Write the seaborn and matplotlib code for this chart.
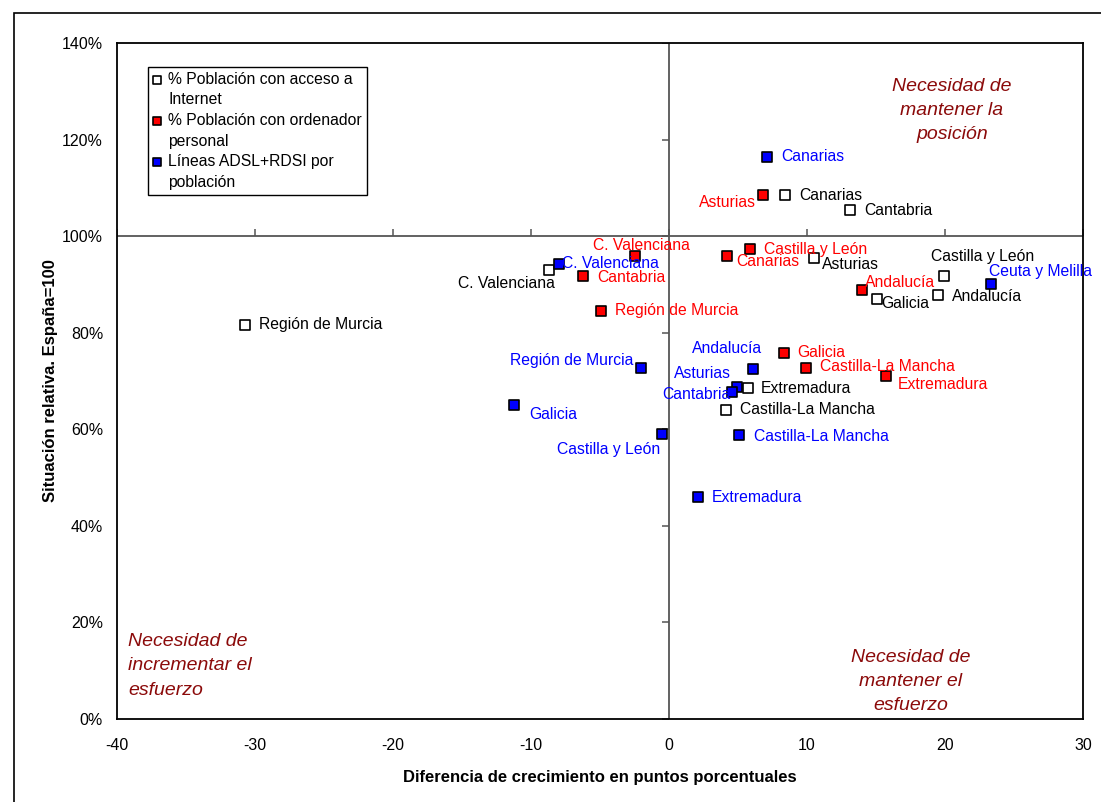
import numpy as np
import pandas as pd
import matplotlib
matplotlib.use("Agg")
import matplotlib.pyplot as plt
from matplotlib.lines import Line2D
import seaborn as sns

# --- datos ---
internet_regiones = ["Región de Murcia", "C. Valenciana", "Canarias", "Cantabria", "Asturias",
                     "Castilla y León", "Andalucía", "Galicia", "Extremadura", "Castilla-La Mancha"]
internet_x = [-30.7, -8.7, 8.4, 13.1, 10.5, 19.9, 19.5, 15.1, 5.7, 4.1]
internet_y = [81.6, 93.0, 108.5, 105.4, 95.4, 91.7, 87.8, 87.0, 68.5, 64.0]

ordenador_regiones = ["Asturias", "C. Valenciana", "Cantabria", "Región de Murcia", "Castilla y León",
                      "Canarias", "Andalucía", "Galicia", "Castilla-La Mancha", "Extremadura"]
ordenador_x = [6.8, -2.5, -6.2, -4.9, 5.9, 4.2, 14.0, 8.3, 9.9, 15.7]
ordenador_y = [108.5, 95.9, 91.7, 84.5, 97.3, 95.9, 88.8, 75.8, 72.7, 71.0]

adsl_regiones = ["Canarias", "C. Valenciana", "Ceuta y Melilla", "Región de Murcia", "Galicia",
                 "Castilla y León", "Andalucía", "Asturias", "Cantabria", "Castilla-La Mancha", "Extremadura"]
adsl_x = [7.1, -8.0, 23.3, -2.0, -11.2, -0.5, 6.1, 4.9, 4.6, 5.1, 2.1]
adsl_y = [116.4, 94.2, 90.1, 72.7, 65.0, 59.0, 72.5, 68.7, 67.7, 58.8, 46.0]

series_nombres = ["% Población con acceso a\nInternet",
                  "% Población con ordenador\npersonal",
                  "Líneas ADSL+RDSI por\npoblación"]

x_ticks = [-40, -30, -20, -10, 0, 10, 20, 30]
y_ticks = [0, 20, 40, 60, 80, 100, 120, 140]

# --- estilo ---
sns.set_style("white")
plt.rcParams["font.family"] = ["Liberation Sans", "DejaVu Sans"]
plt.rcParams["axes.unicode_minus"] = False
plt.rcParams["text.color"] = "black"
plt.rcParams["axes.labelcolor"] = "black"
plt.rcParams["xtick.color"] = "black"
plt.rcParams["ytick.color"] = "black"

ROJO_OSCURO = "#8B0A0A"
colores = {"fill": ["white", "#FF0000", "#0000FF"], "text": ["black", "#FF0000", "#0000FF"]}

# desplazamientos de etiqueta (px) y alineación
off_internet = {
    "Región de Murcia": (14, 0, "left"), "C. Valenciana": (6, -14, "right"),
    "Canarias": (14, 0, "left"), "Cantabria": (14, 0, "left"), "Asturias": (8, -6, "left"),
    "Castilla y León": (-13, 20, "left"), "Andalucía": (14, -1, "left"), "Galicia": (4, -5, "left"),
    "Extremadura": (13, 0, "left"), "Castilla-La Mancha": (14, 0, "left"),
}
off_ordenador = {
    "Asturias": (-7, -7, "right"), "C. Valenciana": (7, 10, "center"), "Cantabria": (14, -1, "left"),
    "Región de Murcia": (14, 0, "left"), "Castilla y León": (14, 0, "left"), "Canarias": (9, -6, "left"),
    "Andalucía": (3, 8, "left"), "Galicia": (14, 0, "left"), "Castilla-La Mancha": (14, 1, "left"),
    "Extremadura": (12, -8, "left"),
}
off_adsl = {
    "Canarias": (14, 0, "left"), "C. Valenciana": (3, 1, "left"), "Ceuta y Melilla": (-2, 12, "left"),
    "Región de Murcia": (-8, 7, "right"), "Galicia": (15, -9, "left"), "Castilla y León": (-2, -15, "right"),
    "Andalucía": (9, 20, "right"), "Asturias": (-6, 14, "right"), "Cantabria": (-2, -2, "right"),
    "Castilla-La Mancha": (15, -1, "left"), "Extremadura": (14, -1, "left"),
}

fig = plt.figure(figsize=(11.01, 8.02), dpi=100)
ax = fig.add_axes([117 / 1101, 83 / 802, 966 / 1101, 676 / 802])

# marco exterior
fig.patches.append(plt.Rectangle((14 / 1101, -0.1), 1.2, 1 - 13 / 802 + 0.1, transform=fig.transFigure,
                                 fill=False, edgecolor="black", linewidth=1.2))

# ejes cruzados en 0 y 100%
GRIS = "#555555"
ax.axvline(0, color=GRIS, linewidth=1.3, zorder=1)
ax.axhline(100, color=GRIS, linewidth=1.3, zorder=1)
ax.plot([0] * len(y_ticks), y_ticks, linestyle="none", marker=0, markersize=5, markeredgewidth=1.1,
        color=GRIS, zorder=1)
ax.plot(x_ticks, [100] * len(x_ticks), linestyle="none", marker=2, markersize=5, markeredgewidth=1.1,
        color=GRIS, zorder=1)

series = [
    (internet_regiones, internet_x, internet_y, off_internet),
    (ordenador_regiones, ordenador_x, ordenador_y, off_ordenador),
    (adsl_regiones, adsl_x, adsl_y, off_adsl),
]

for i, (reg, xs, ys, offs) in enumerate(series):
    df = pd.DataFrame({"x": xs, "y": ys, "region": reg})
    sns.scatterplot(data=df, x="x", y="y", ax=ax, marker="s", s=45, color=colores["fill"][i],
                    edgecolor="black", linewidth=1.2, label=series_nombres[i], zorder=3)
    for r, xv, yv in zip(reg, xs, ys):
        dx, dy, ha = offs[r]
        ax.annotate(r, (xv, yv), xytext=(dx * 0.72, dy * 0.72), textcoords="offset points",
                    ha=ha, va="center", fontsize=11.3, color=colores["text"][i], zorder=4)

# textos de cuadrantes
q_kw = dict(fontsize=14, style="italic", color=ROJO_OSCURO, linespacing=1.55)
ax.text(20.5, 126.0, "Necesidad de\nmantener la\nposición", ha="center", va="center", **q_kw)
ax.text(-39.2, 11.0, "Necesidad de\nincrementar el\nesfuerzo", ha="left", va="center", **q_kw)
ax.text(17.5, 7.8, "Necesidad de\nmantener el\nesfuerzo", ha="center", va="center", **q_kw)

ax.set_xlim(-40, 30)
ax.set_ylim(0, 140)
ax.set_xticks(x_ticks)
ax.set_yticks(y_ticks)
ax.set_yticklabels([f"{v}%" for v in y_ticks])
ax.tick_params(length=0, labelsize=11.5, pad=10)
ax.tick_params(axis="x", pad=14)
for s in ax.spines.values():
    s.set_color("black")
    s.set_linewidth(1.3)

ax.set_xlabel("Diferencia de crecimiento en puntos porcentuales", fontsize=12, fontweight="bold", labelpad=12)
ax.set_ylabel("Situación relativa. España=100", fontsize=12, fontweight="bold", labelpad=3)

# leyenda: el marcador va alineado con la primera línea de cada entrada
handles, labels = ax.get_legend_handles_labels()
vacio = Line2D([], [], linestyle="none", marker=None)
leg_h, leg_l = [], []
for h, l in zip(handles, labels):
    primera, segunda = l.split("\n")
    leg_h += [h, vacio]
    leg_l += [primera, segunda]

leg = ax.legend(leg_h, leg_l, loc="upper left", bbox_to_anchor=(31 / 966, 1 - 24 / 676), fontsize=11.3,
                frameon=True, fancybox=False, edgecolor="black", framealpha=1,
                handlelength=0.5, handletextpad=0.5, borderpad=0.3, labelspacing=0.36,
                markerscale=0.9, borderaxespad=0)
leg.get_frame().set_linewidth(1.0)

fig.savefig("out.png", dpi=100)
